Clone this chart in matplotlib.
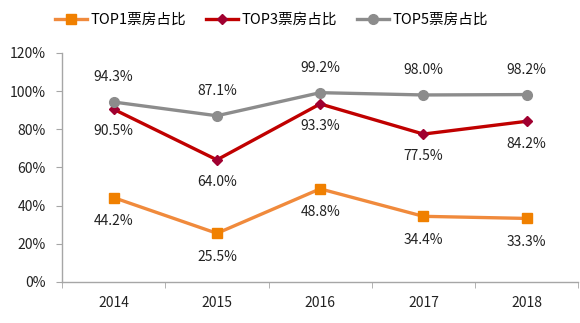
import matplotlib
matplotlib.use("Agg")
import matplotlib.pyplot as plt
from matplotlib.ticker import FixedLocator

plt.rcParams['font.family'] = ['Noto Sans CJK SC', 'DejaVu Sans']

years = ['2014', '2015', '2016', '2017', '2018']
top1 = [44.2, 25.5, 48.8, 34.4, 33.3]
top3 = [90.5, 64.0, 93.3, 77.5, 84.2]
top5 = [94.3, 87.1, 99.2, 98.0, 98.2]
yticks = [0, 20, 40, 60, 80, 100, 120]

fig = plt.figure(figsize=(5.8, 3.23), dpi=100)
ax = fig.add_axes([0.107, 0.127, 0.89, 0.709])
x = list(range(len(years)))

ax.plot(x, top1, color='#F08A3C', lw=2.4, marker='s', ms=7, mfc='#F08000', mec='#F08000', label='TOP1票房占比')
ax.plot(x, top3, color='#C00000', lw=2.4, marker='D', ms=5.5, mfc='#A00030', mec='#A00030', label='TOP3票房占比')
ax.plot(x, top5, color='#8C8C8C', lw=2.4, marker='o', ms=7, mfc='#8C8C8C', mec='#8C8C8C', label='TOP5票房占比')

for xi, v in zip(x, top1):
    ax.annotate(f'{v:.1f}%', (xi, v), xytext=(0, -17), textcoords='offset points', ha='center', va='center', fontsize=10, color='#222222')
for xi, v in zip(x, top3):
    ax.annotate(f'{v:.1f}%', (xi, v), xytext=(0, -16), textcoords='offset points', ha='center', va='center', fontsize=10, color='#222222')
for xi, v in zip(x, top5):
    ax.annotate(f'{v:.1f}%', (xi, v), xytext=(0, 18), textcoords='offset points', ha='center', va='center', fontsize=10, color='#222222')

ax.set_xlim(-0.5, len(years) - 0.5)
ax.set_ylim(0, 120)
ax.set_xticks(x)
ax.set_xticklabels(years, fontsize=10, color='#222222')
ax.xaxis.set_minor_locator(FixedLocator([i - 0.5 for i in range(len(years) + 1)]))
ax.tick_params(axis='x', which='major', length=0, pad=10)
ax.tick_params(axis='x', which='minor', length=4, color='#A6A6A6', direction='out')
ax.set_yticks(yticks)
ax.set_yticklabels([f'{t}%' for t in yticks], fontsize=10, color='#222222')
ax.tick_params(axis='y', length=4, color='#A6A6A6', direction='out', pad=8)

for s in ['top', 'right']:
    ax.spines[s].set_visible(False)
for s in ['left', 'bottom']:
    ax.spines[s].set_color('#A6A6A6')
    ax.spines[s].set_linewidth(1)

fig.legend(loc='upper center', bbox_to_anchor=(0.468, 1.0), ncol=3, frameon=False, fontsize=10.5,
           handlelength=2.2, columnspacing=1.4, handletextpad=0.2)

fig.savefig('out.png', dpi=100)
